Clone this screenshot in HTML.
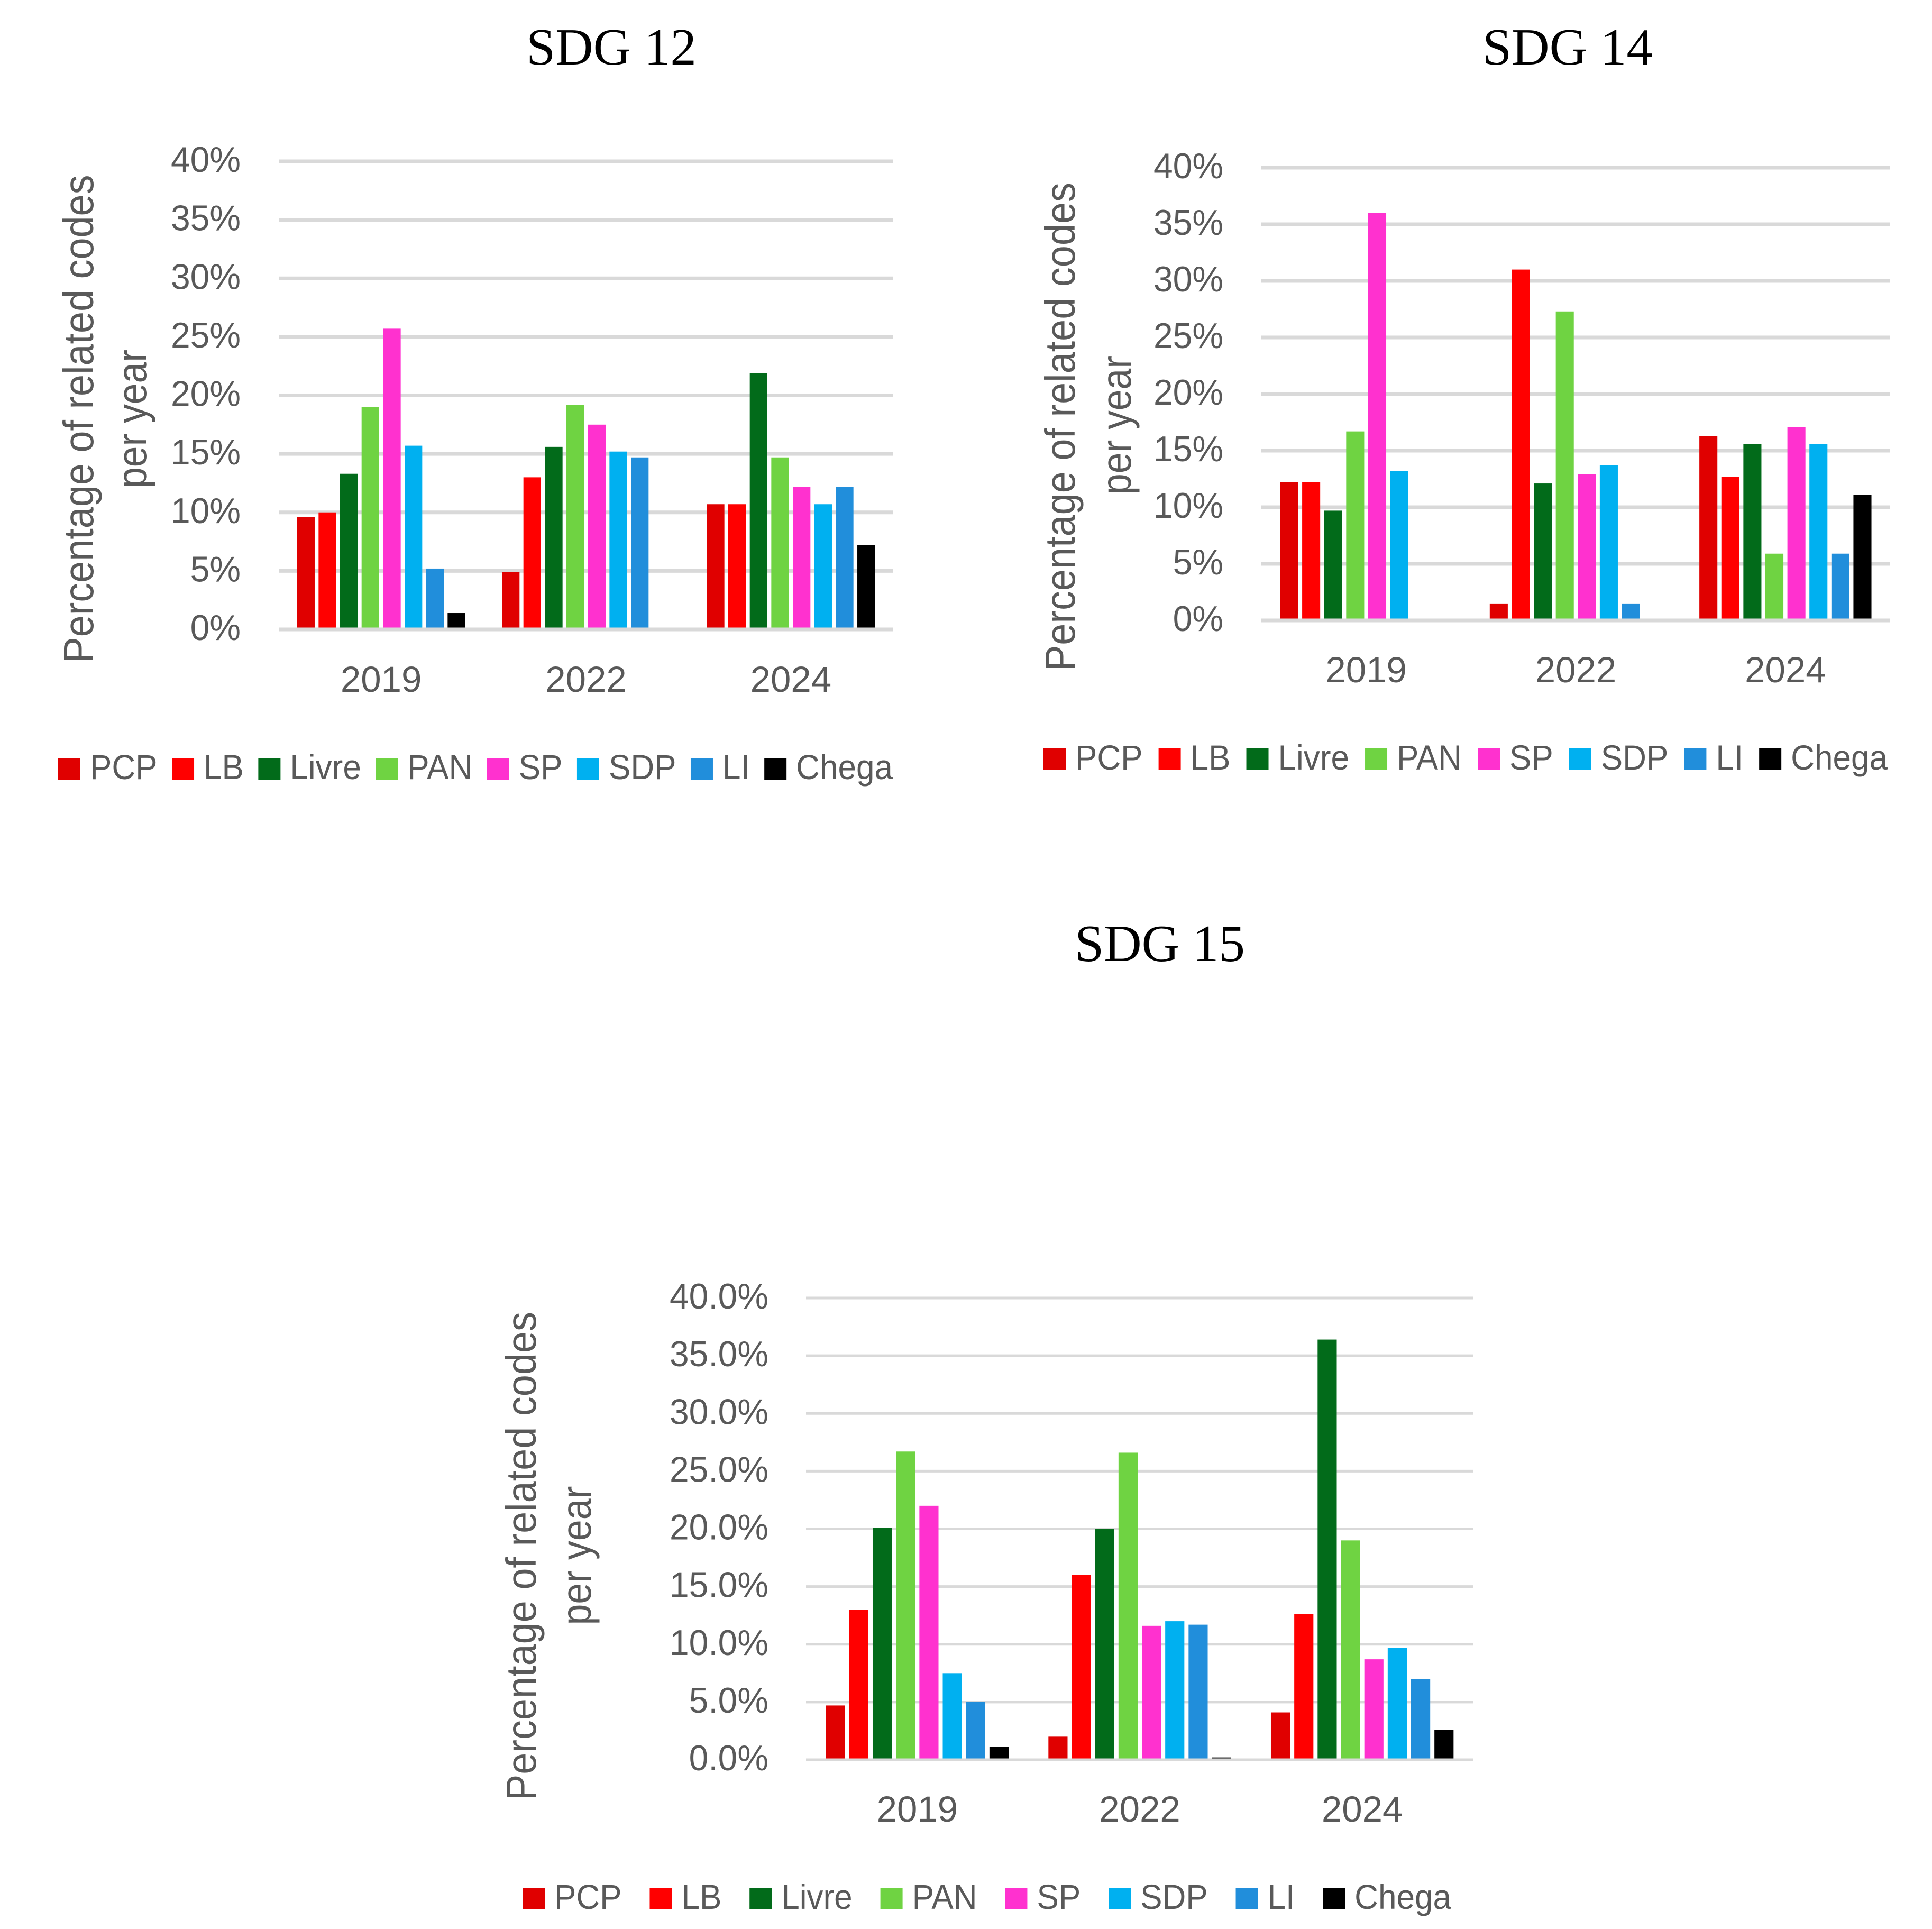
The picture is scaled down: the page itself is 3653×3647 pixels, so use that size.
<!DOCTYPE html>
<html lang="en">
<head>
<meta charset="utf-8">
<title>SDG 12, 14 and 15 charts</title>
<style>
html,body{margin:0;padding:0;background:#fff;width:3653px;height:3647px;overflow:hidden}
svg{display:block}
.title{font-family:"Liberation Serif",serif;font-size:99px;fill:#000;text-anchor:middle}
.axis-title{font-family:"Liberation Sans",sans-serif;font-size:80px;fill:#595959;text-anchor:middle}
.tick{font-family:"Liberation Sans",sans-serif;font-size:68px;fill:#595959;text-anchor:end}
.year{font-family:"Liberation Sans",sans-serif;font-size:69px;fill:#595959;text-anchor:middle}
.legend-text{font-family:"Liberation Sans",sans-serif;font-size:66px;fill:#595959}
</style>
</head>
<body>
<svg id="figure" xmlns="http://www.w3.org/2000/svg" width="3653" height="3647" viewBox="0 0 3653 3647">
  <rect x="0" y="0" width="3653" height="3647" fill="#ffffff"/>

  <g id="chart-12">
    <text class="title" x="1156" y="122">SDG 12</text>
    <text class="axis-title" transform="translate(176 792) rotate(-90)" textLength="923" lengthAdjust="spacingAndGlyphs">Percentage of related codes</text>
    <text class="axis-title" transform="translate(277 792) rotate(-90)" textLength="262" lengthAdjust="spacingAndGlyphs">per year</text>
  </g>

  <g id="chart-14">
    <text class="title" x="2964" y="122">SDG 14</text>
    <text class="axis-title" transform="translate(2032 807) rotate(-90)" textLength="924" lengthAdjust="spacingAndGlyphs">Percentage of related codes</text>
    <text class="axis-title" transform="translate(2138 804) rotate(-90)" textLength="262" lengthAdjust="spacingAndGlyphs">per year</text>
  </g>

  <g id="chart-15">
    <text class="title" x="2193" y="1817">SDG 15</text>
    <text class="axis-title" transform="translate(1013 2942) rotate(-90)" textLength="924" lengthAdjust="spacingAndGlyphs">Percentage of related codes</text>
    <text class="axis-title" transform="translate(1117 2941) rotate(-90)" textLength="263" lengthAdjust="spacingAndGlyphs">per year</text>
  </g>
</svg>

<script>
var categories = ['2019', '2022', '2024'];
var seriesNames = ['PCP', 'LB', 'Livre', 'PAN', 'SP', 'SDP', 'LI', 'Chega'];
var seriesColors = ['#E00000', '#FF0000', '#026B1A', '#6FD342', '#FF31CF', '#00B0F0', '#218EDB', '#000000'];
var tickValues = [0, 5, 10, 15, 20, 25, 30, 35, 40];
var tickLabelsWhole = ['0%', '5%', '10%', '15%', '20%', '25%', '30%', '35%', '40%'];
var tickLabelsDecimal = ['0.0%', '5.0%', '10.0%', '15.0%', '20.0%', '25.0%', '30.0%', '35.0%', '40.0%'];

var sdg12Values2019 = [9.6, 10.0, 13.3, 19.0, 25.7, 15.7, 5.2, 1.4];
var sdg12Values2022 = [4.9, 13.0, 15.6, 19.2, 17.5, 15.2, 14.7, 0];
var sdg12Values2024 = [10.7, 10.7, 21.9, 14.7, 12.2, 10.7, 12.2, 7.2];

var sdg14Values2019 = [12.2, 12.2, 9.7, 16.7, 36.0, 13.2, 0, 0];
var sdg14Values2022 = [1.5, 31.0, 12.1, 27.3, 12.9, 13.7, 1.5, 0];
var sdg14Values2024 = [16.3, 12.7, 15.6, 5.9, 17.1, 15.6, 5.9, 11.1];

var sdg15Values2019 = [4.7, 13.0, 20.1, 26.7, 22.0, 7.5, 5.0, 1.1];
var sdg15Values2022 = [2.0, 16.0, 20.0, 26.6, 11.6, 12.0, 11.7, 0.2];
var sdg15Values2024 = [4.1, 12.6, 36.4, 19.0, 8.7, 9.7, 7.0, 2.6];

var SVG_NS = 'http://www.w3.org/2000/svg';

function make(parent, tag, attrs, text) {
  var el = document.createElementNS(SVG_NS, tag);
  for (var k in attrs) { el.setAttribute(k, attrs[k]); }
  if (text !== undefined) { el.textContent = text; }
  parent.appendChild(el);
  return el;
}

function squeeze(el, factor) {
  var width = el.getComputedTextLength() * factor;
  el.setAttribute('textLength', width);
  el.setAttribute('lengthAdjust', 'spacingAndGlyphs');
  return width;
}

function drawChart(groupId, key, rows, tickLabels, box) {
  var group = document.getElementById(groupId);
  var yMax = tickValues[tickValues.length - 1];
  function yScale(v) { return box.y0 - (v / yMax) * (box.y0 - box.yTop); }
  var catWidth = (box.x1 - box.x0) / categories.length;
  function catCenter(i) { return box.x0 + catWidth * (i + 0.5); }
  var step = catWidth * 0.105;
  var barWidth = catWidth * 0.086;
  function barX(c, s) { return catCenter(c) + (s - (seriesNames.length - 1) / 2) * step - barWidth / 2; }

  tickValues.forEach(function (t, i) {
    var y = yScale(t);
    if (t !== 0) {
      var line = make(group, 'line', { x1: box.x0, x2: box.x1, y1: y, y2: y, stroke: '#D9D9D9', 'stroke-width': box.gridWidth });
      
      
    }
    var label = make(group, 'text', { 'class': 'tick', x: box.tickRight, y: y + 20 }, tickLabels[i]);
    
    
    squeeze(label, 0.97);
  });

  rows.forEach(function (row, c) {
    row.forEach(function (v, s) {
      if (v <= 0) { return; }
      var top = yScale(v);
      var bar = make(group, 'rect', { x: barX(c, s), y: top, width: barWidth, height: yScale(0) - top, fill: seriesColors[s] });
      
      
    });
    var year = make(group, 'text', { 'class': 'year', x: catCenter(c), y: box.yearBaseline }, categories[c]);
    
    
  });

  var axis = make(group, 'line', { x1: box.x0, x2: box.x1, y1: yScale(0), y2: yScale(0), stroke: '#D9D9D9', 'stroke-width': box.gridWidth });
  
  

  var swatchW = 42, swatchGap = 18;
  var legend = make(group, 'g', {});
  
  
  var labelWidths = [];
  var labels = seriesNames.map(function (name) {
    var label = make(legend, 'text', { 'class': 'legend-text', y: box.legendBaseline }, name);
    
    
    labelWidths.push(squeeze(label, 0.94));
    return label;
  });
  var textTotal = labelWidths.reduce(function (sum, w) { return sum + w; }, 0);
  var used = textTotal + seriesNames.length * (swatchW + swatchGap);
  var entryGap = (box.legendRight - box.legendLeft - used) / (seriesNames.length - 1);
  var cursor = box.legendLeft;
  labels.forEach(function (label, s) {
    var swatch = make(legend, 'rect', { x: cursor, y: box.legendBaseline - 40, width: swatchW, height: 41, fill: seriesColors[s] });
    
    
    label.setAttribute('x', cursor + swatchW + swatchGap);
    cursor += swatchW + swatchGap + labelWidths[s] + entryGap;
  });
}

drawChart('chart-12', 'sdg-12', [sdg12Values2019, sdg12Values2022, sdg12Values2024], tickLabelsWhole,
  { x0: 527, x1: 1689, y0: 1190, yTop: 305, gridWidth: 7, tickRight: 455, yearBaseline: 1308, legendBaseline: 1473, legendLeft: 110, legendRight: 1688 });
drawChart('chart-14', 'sdg-14', [sdg14Values2019, sdg14Values2022, sdg14Values2024], tickLabelsWhole,
  { x0: 2385, x1: 3574, y0: 1173, yTop: 317, gridWidth: 7, tickRight: 2313, yearBaseline: 1290, legendBaseline: 1455, legendLeft: 1973, legendRight: 3569 });
drawChart('chart-15', 'sdg-15', [sdg15Values2019, sdg15Values2022, sdg15Values2024], tickLabelsDecimal,
  { x0: 1524, x1: 2786, y0: 3327, yTop: 2454, gridWidth: 5, tickRight: 1453, yearBaseline: 3444, legendBaseline: 3609, legendLeft: 988, legendRight: 2744 });
</script>
</body>
</html>
